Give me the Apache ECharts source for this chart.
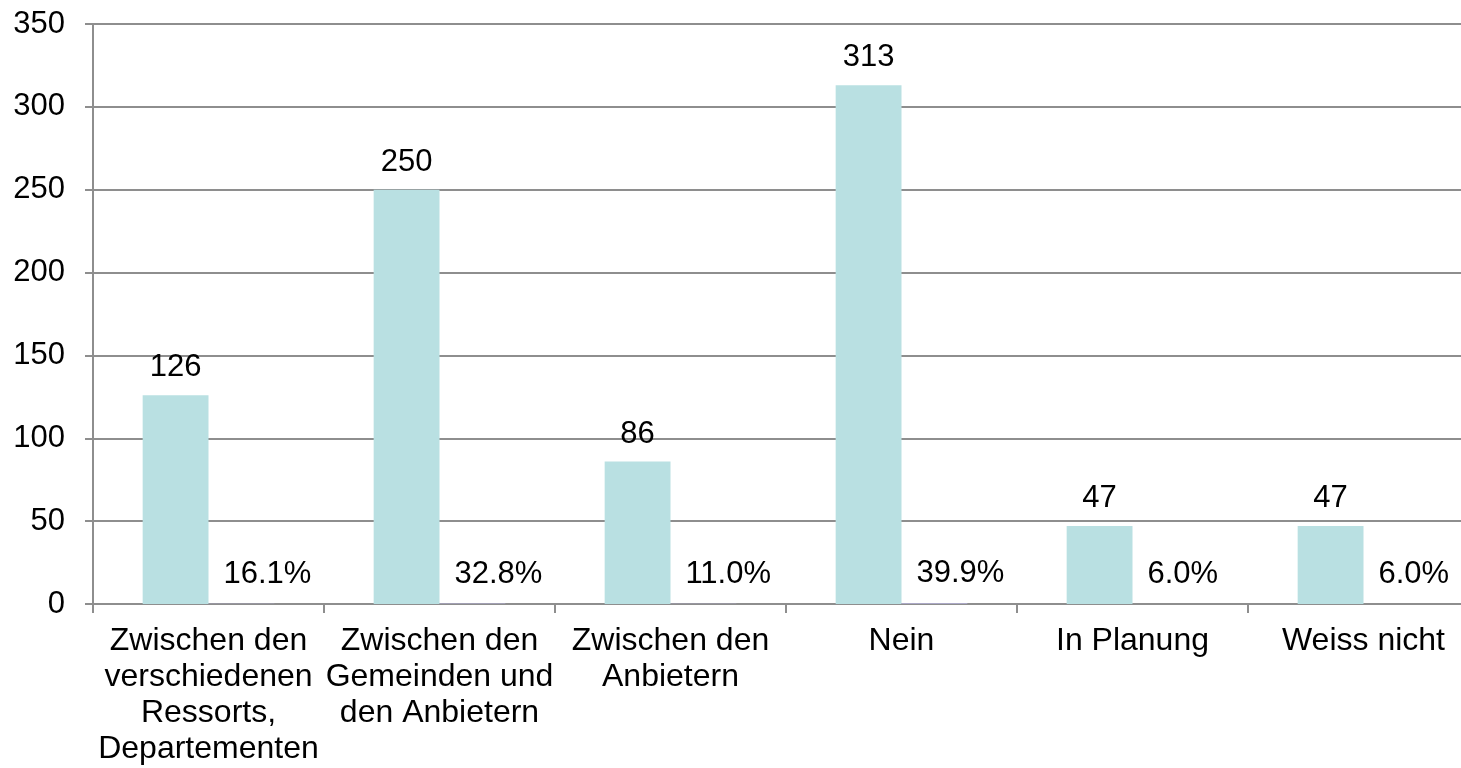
<!DOCTYPE html>
<html>
<head>
<meta charset="utf-8">
<script src="https://cdn.jsdelivr.net/npm/echarts@6/dist/echarts.min.js"></script>
<style>
  html, body { margin: 0; padding: 0; background: #fff; }
  #chart { width: 1461px; height: 768px; }
</style>
</head>
<body>
<div id="chart"></div>
<script>
// categories (line breaks as in the original axis labels)
const categories = [
  "Zwischen den\nverschiedenen\nRessorts,\nDepartementen",
  "Zwischen den\nGemeinden und\nden Anbietern",
  "Zwischen den\nAnbietern",
  "Nein",
  "In Planung",
  "Weiss nicht"
];
// number of answers
const counts = [126, 250, 86, 313, 47, 47];
// share of respondents (plotted on the same axis, so nearly flat)
const shares = [0.161, 0.328, 0.110, 0.399, 0.060, 0.060];
const yTicks = { min: 0, max: 350, interval: 50 };

const myChart = echarts.init(document.getElementById("chart"));
const fontFamily = "'Liberation Sans', Arial, sans-serif";
const gridColor = "#8e8e8e";

const option = {
  animation: false,
  backgroundColor: "#ffffff",
  grid: {
    left: 93,
    top: 24,
    bottom: 164,
    width: 1386,
    containLabel: false,
    outerBoundsMode: "none"
  },
  xAxis: {
    type: "category",
    data: categories,
    axisLine: { show: true, lineStyle: { color: gridColor, width: 2 } },
    axisTick: { show: true, length: 9, lineStyle: { color: gridColor, width: 2 } },
    axisLabel: {
      interval: 0,
      margin: 19,
      color: "#000",
      fontSize: 32,
      fontFamily: fontFamily,
      lineHeight: 36
    },
    splitLine: { show: false }
  },
  yAxis: {
    type: "value",
    min: yTicks.min,
    max: yTicks.max,
    interval: yTicks.interval,
    axisLine: { show: true, lineStyle: { color: gridColor, width: 2 } },
    axisTick: { show: true, length: 8, lineStyle: { color: gridColor, width: 2 } },
    axisLabel: {
      margin: 28,
      color: "#000",
      fontSize: 31,
      fontFamily: fontFamily
    },
    splitLine: { show: true, lineStyle: { color: gridColor, width: 2 } }
  },
  series: [
    {
      name: "Anzahl",
      type: "bar",
      data: counts,
      barGap: "0%",
      barCategoryGap: "43%",
      itemStyle: { color: "#b9e0e2" },
      label: {
        show: true,
        position: "top",
        distance: 12,
        color: "#000",
        fontSize: 31,
        fontFamily: fontFamily
      }
    },
    {
      name: "Prozent",
      type: "bar",
      data: shares,
      itemStyle: { color: "#b4b0d8" },
      label: {
        show: true,
        position: "top",
        distance: 14,
        align: "left",
        offset: [-18, 0],
        color: "#000",
        fontSize: 31,
        fontFamily: fontFamily,
        formatter: p => (p.value * 100).toFixed(1) + "%"
      }
    }
  ]
};

myChart.setOption(option, true);
</script>
</body>
</html>
